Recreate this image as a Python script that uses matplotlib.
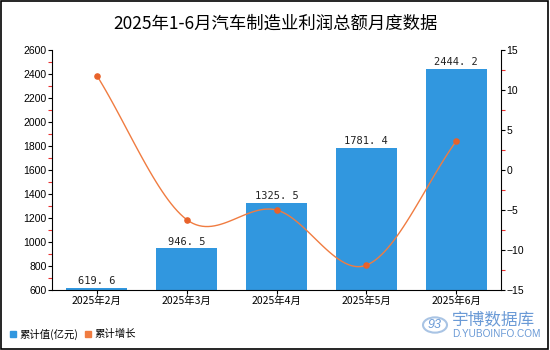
import numpy as np
import matplotlib.pyplot as plt
from matplotlib.patches import Rectangle, Circle

plt.rcParams['font.family'] = ['Noto Sans CJK SC', 'DejaVu Sans']
num_font = ['Liberation Sans', 'DejaVu Sans']

# data
months = ["2025年2月", "2025年3月", "2025年4月", "2025年5月", "2025年6月"]
values = [619.6, 946.5, 1325.5, 1781.4, 2444.2]
growth = [11.8, -6.2, -5.0, -11.9, 3.6]

bar_color = '#3197df'
line_color = '#f07c41'
dot_color = '#e8622a'
mark_color = '#6a9ad6'

fig = plt.figure(figsize=(5.5, 3.5), dpi=100)
fig.patches.append(Rectangle((0.002, 0.003), 0.995, 0.994, transform=fig.transFigure,
                             fill=False, edgecolor='black', linewidth=1.2))

ax = fig.add_axes([0.0945, 0.1714, 0.8165, 0.6857])
x = np.arange(len(months))
ax.bar(x, [v - 600 for v in values], bottom=600, width=0.68, color=bar_color, zorder=2)
for xi, v in zip(x, values):
    ax.text(xi, v + 15, f"{v:.1f}".replace('.', '. '), ha='center', va='bottom',
            fontsize=7.5, color='#222222', family=['DejaVu Sans Mono'])

ax.set_xlim(-0.5, len(months) - 0.5)
ax.set_ylim(600, 2600)
ax.set_yticks(np.arange(600, 2601, 200))
ax.set_yticks(np.arange(700, 2600, 200), minor=True)
ax.set_xticks(x)
ax.set_xticklabels(months, fontsize=7.5)
ax.tick_params(axis='y', labelsize=7.5, length=3, width=0.8, pad=1,
               labelfontfamily='Liberation Sans')
ax.tick_params(axis='y', which='minor', length=3, color='#e83030', width=0.8)
ax.tick_params(axis='x', length=3, width=0.8, pad=1)
for s in ['top', 'right']:
    ax.spines[s].set_visible(False)

ax2 = ax.twinx()
ax2.set_ylim(-15, 15)
ax2.set_yticks(np.arange(-15, 16, 5))
ax2.set_yticks(np.arange(-12.5, 15, 5), minor=True)
ax2.tick_params(axis='y', labelsize=7.5, length=3, width=0.8, pad=1,
                labelfontfamily='Liberation Sans')
ax2.tick_params(axis='y', which='minor', length=3, color='#e83030', width=0.8)
for s in ['top', 'left', 'bottom']:
    ax2.spines[s].set_visible(False)

# smooth curve (Catmull-Rom through the points)
px = np.array(x, dtype=float)
py = np.array(growth, dtype=float)
ex = np.concatenate([[2 * px[0] - px[1]], px, [2 * px[-1] - px[-2]]])
ey = np.concatenate([[2 * py[0] - py[1]], py, [2 * py[-1] - py[-2]]])
cx, cy = [], []
t = np.linspace(0, 1, 30)
for i in range(1, len(ex) - 2):
    p0, p1, p2, p3 = ex[i-1:i+3]
    q0, q1, q2, q3 = ey[i-1:i+3]
    for arr, a0, a1, a2, a3 in ((cx, p0, p1, p2, p3), (cy, q0, q1, q2, q3)):
        arr.extend(0.5 * (2 * a1 + (-a0 + a2) * t + (2 * a0 - 5 * a1 + 4 * a2 - a3) * t ** 2
                          + (-a0 + 3 * a1 - 3 * a2 + a3) * t ** 3))
ax2.plot(cx, cy, color=line_color, linewidth=1, zorder=3)
ax2.scatter(px, py, color=dot_color, s=14, zorder=4)

fig.suptitle("2025年1-6月汽车制造业利润总额月度数据", fontsize=12.5, y=0.958)

# legend
fig.patches.append(Rectangle((10 / 550, 1 - 337 / 350), 6 / 550, 6 / 350,
                             transform=fig.transFigure, color=bar_color))
fig.text(19 / 550, 1 - 334 / 350, "累计值(亿元)", fontsize=7.5, va='center')
fig.patches.append(Rectangle((85 / 550, 1 - 337 / 350), 6 / 550, 6 / 350,
                             transform=fig.transFigure, color=line_color))
fig.text(94 / 550, 1 - 334 / 350, "累计增长", fontsize=7.5, va='center')

# watermark
fig.patches.append(Circle((435 / 550, 1 - 325 / 350), 12 / 550, transform=fig.transFigure,
                          fill=False, edgecolor='#a9c4e4', linewidth=1.5))
fig.text(435 / 550, 1 - 325 / 350, "93", fontsize=9, color=mark_color, ha='center',
         va='center', style='italic', family=num_font)
fig.text(452 / 550, 1 - 320 / 350, "宇博数据库", fontsize=12, color=mark_color,
         va='center', fontweight='medium')
fig.text(452 / 550, 1 - 334 / 350, "D.YUBOINFO.COM", fontsize=7.2, color=mark_color,
         va='center', family=num_font)

fig.savefig("out.png", dpi=100)
